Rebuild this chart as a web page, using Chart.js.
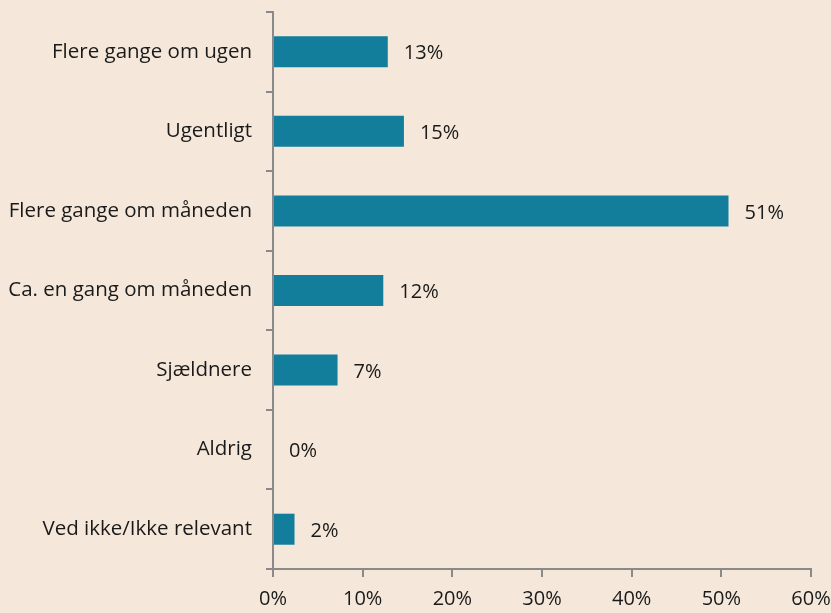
<!DOCTYPE html>
<html>
<head>
<meta charset="utf-8">
<title>Hyppighed</title>
<script src="https://cdn.jsdelivr.net/npm/chart.js@4.4.1/dist/chart.umd.min.js"></script>
<style>
  html, body { margin: 0; padding: 0; background: #f5e8db; }
  #wrap { width: 831px; height: 613px; }
</style>
</head>
<body>
<div id="wrap"><canvas id="chart" width="831" height="613"></canvas></div>
<script>
// answer categories, top to bottom
var categories = [
  'Flere gange om ugen',
  'Ugentligt',
  'Flere gange om måneden',
  'Ca. en gang om måneden',
  'Sjældnere',
  'Aldrig',
  'Ved ikke/Ikke relevant'
];
// share of respondents in percent
var shares = [12.8, 14.6, 50.8, 12.3, 7.2, 0, 2.4];
// x-axis ticks
var xTicks = [0, 10, 20, 30, 40, 50, 60];

var axisGrey = '#8a8a8a';
var fontFamily = '"Open Sans", "Noto Sans", sans-serif';

// writes the rounded percentage right of each bar
var valueLabels = {
  id: 'valueLabels',
  afterDatasetsDraw: function(chart) {
    var ctx = chart.ctx;
    var meta = chart.getDatasetMeta(0);
    ctx.save();
    ctx.font = '20px ' + fontFamily;
    ctx.fillStyle = '#1a1a1a';
    ctx.textBaseline = 'middle';
    ctx.textAlign = 'left';
    meta.data.forEach(function(bar, i) {
      ctx.fillText(Math.round(shares[i]) + '%', bar.x + 16, bar.y + 2);
    });
    ctx.restore();
  }
};

new Chart(document.getElementById('chart'), {
  type: 'bar',
  data: {
    labels: categories,
    datasets: [{
      data: shares,
      backgroundColor: '#127e9b',
      borderWidth: 0,
      barPercentage: 0.39,
      categoryPercentage: 1
    }]
  },
  options: {
    indexAxis: 'y',
    responsive: false,
    animation: false,
    layout: { padding: { top: 12, right: 20, left: 0, bottom: 0 } },
    plugins: {
      legend: { display: false },
      tooltip: { enabled: false }
    },
    scales: {
      x: {
        min: 0,
        max: 60,
        afterBuildTicks: function(axis) {
          axis.ticks = xTicks.map(function(v) { return { value: v }; });
        },
        afterFit: function(axis) {
          axis.height = 44;
          axis.paddingLeft = 0;
          axis.paddingRight = 0;
        },
        ticks: {
          callback: function(v) { return v + '%'; },
          color: '#1a1a1a',
          font: { family: fontFamily, size: 20 },
          padding: 10,
          maxRotation: 0
        },
        grid: {
          drawOnChartArea: false,
          tickLength: 8,
          color: axisGrey,
          lineWidth: 2
        },
        border: { color: axisGrey, width: 2 }
      },
      y: {
        afterFit: function(axis) {
          axis.width = 273;
          axis.paddingTop = 0;
          axis.paddingBottom = 0;
        },
        ticks: {
          color: '#1a1a1a',
          font: { family: fontFamily, size: 20.5 },
          padding: 14
        },
        grid: {
          drawOnChartArea: false,
          offset: true,
          tickLength: 7,
          color: axisGrey,
          lineWidth: 2
        },
        border: { color: axisGrey, width: 2 }
      }
    }
  },
  plugins: [valueLabels]
});
</script>
</body>
</html>
